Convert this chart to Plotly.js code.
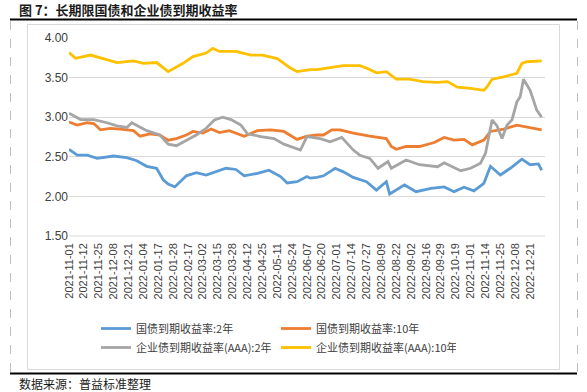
<!DOCTYPE html>
<html>
<head>
<meta charset="utf-8">
<script src="https://cdn.plot.ly/plotly-3.0.1.min.js"></script>
<style>html,body{margin:0;padding:0;background:#fff;}#chart{width:587px;height:392px;}</style>
</head>
<body>
<div id="chart"></div>
<script>
// Tick labels: one every 9 trading days (category positions)
const tickLabels = ["2021-11-01","2021-11-12","2021-11-25","2021-12-08","2021-12-21","2022-01-04","2022-01-17","2022-01-28","2022-02-17","2022-03-02","2022-03-15","2022-03-28","2022-04-12","2022-04-25","2022-05-11","2022-05-24","2022-06-07","2022-06-20","2022-07-01","2022-07-14","2022-07-27","2022-08-09","2022-08-22","2022-09-02","2022-09-16","2022-09-29","2022-10-19","2022-11-01","2022-11-14","2022-11-25","2022-12-08","2022-12-21"];
const tickStep = 9;

// Series (x = trading-day index from 2021-11-01, y = yield %)
const gov2Day = [0,5,11,17,27,35,41,47,53,57,60,64,71,77,83,89,95,101,106,114,121,128,132,138,144,146,150,154,161,166,172,180,186,192,194,203,210,219,227,233,239,245,251,255,261,267,274,279,284,286];
const gov2 = [2.595,2.52,2.52,2.48,2.51,2.49,2.45,2.38,2.355,2.21,2.155,2.12,2.26,2.30,2.27,2.31,2.355,2.34,2.26,2.29,2.33,2.25,2.17,2.185,2.25,2.23,2.24,2.26,2.355,2.31,2.24,2.185,2.08,2.185,2.03,2.145,2.06,2.10,2.12,2.06,2.115,2.07,2.165,2.38,2.27,2.355,2.47,2.40,2.41,2.33];

const gov10Day = [0,5,11,15,19,25,31,39,43,49,55,60,65,71,75,81,86,91,97,106,114,122,130,138,144,150,154,159,164,172,182,192,195,198,204,212,221,227,233,239,244,251,255,263,271,279,286];
const gov10 = [2.94,2.90,2.93,2.92,2.84,2.86,2.85,2.83,2.76,2.79,2.775,2.71,2.73,2.775,2.82,2.80,2.85,2.805,2.83,2.76,2.83,2.84,2.82,2.72,2.76,2.775,2.775,2.84,2.84,2.80,2.76,2.73,2.63,2.595,2.63,2.63,2.68,2.745,2.71,2.72,2.65,2.71,2.82,2.85,2.90,2.87,2.84];

const corp2Day = [0,7,15,23,29,35,38,43,47,55,60,65,71,77,83,88,93,98,104,108,116,124,130,138,140,144,150,152,158,165,172,176,182,187,193,195,204,212,223,227,237,243,249,252,256,259,262,265,268,271,273,275,279,283,286];
const corp2 = [3.05,2.97,2.97,2.93,2.89,2.87,2.93,2.87,2.83,2.775,2.66,2.64,2.71,2.775,2.86,2.965,3.00,2.97,2.90,2.79,2.755,2.73,2.66,2.595,2.585,2.755,2.73,2.73,2.69,2.745,2.585,2.52,2.48,2.355,2.44,2.355,2.46,2.40,2.375,2.425,2.325,2.355,2.42,2.545,2.965,2.89,2.73,2.90,2.965,3.195,3.26,3.48,3.34,3.09,3.00];

const corp10Day = [0,4,13,25,29,39,45,53,58,60,69,75,83,87,91,101,110,117,126,134,138,146,150,156,166,176,180,186,192,198,206,214,223,229,235,243,251,253,256,263,271,274,277,286];
const corp10 = [3.815,3.744,3.785,3.72,3.69,3.71,3.68,3.69,3.60,3.575,3.68,3.765,3.81,3.87,3.83,3.83,3.785,3.785,3.74,3.62,3.575,3.60,3.60,3.62,3.65,3.65,3.62,3.56,3.575,3.48,3.48,3.45,3.44,3.45,3.38,3.365,3.34,3.385,3.48,3.51,3.555,3.68,3.70,3.71];

const names = ["国债到期收益率:2年","国债到期收益率:10年","企业债到期收益率(AAA):2年","企业债到期收益率(AAA):10年"];
const colors = ["#5B9BD5","#ED7D31","#A5A5A5","#FFC000"];

const series = [[gov2Day,gov2],[gov10Day,gov10],[corp2Day,corp2],[corp10Day,corp10]];
const traces = series.map((s,i)=>({
  x: s[0], y: s[1], type:'scatter', mode:'lines', name: names[i],
  line:{color:colors[i], width:2.8}, hoverinfo:'skip'
}));

// pixel helpers for decoration placement (plot area 69..545 x, 38..236 y)
const L=69, R=42, T=38, B=156, W=587-L-R, H=392-T-B;
const px = x => (x-L)/W;
const py = y => (392-B-y)/H;

const cjk = '"Noto Sans CJK SC", "Noto Sans", sans-serif';
const layout = {
  width:587, height:392,
  margin:{l:L, r:R, t:T, b:B, pad:0},
  paper_bgcolor:'#ffffff', plot_bgcolor:'#ffffff',
  showlegend:true,
  font:{family:'"Liberation Sans", Arial, sans-serif', color:'#404040', size:11},
  xaxis:{
    range:[0,288], tickmode:'array',
    tickvals: tickLabels.map((_,i)=>i*tickStep), ticktext: tickLabels,
    tickangle:-90, tickfont:{size:11, color:'#404040'}, ticklabelstandoff:4,
    showgrid:false, zeroline:false, showline:false, ticks:'', fixedrange:true
  },
  yaxis:{
    range:[1.5,4.0], dtick:0.5, tick0:1.5, tickformat:'.2f',
    tickfont:{size:12, color:'#404040'},
    showgrid:true, gridcolor:'#d9d9d9', gridwidth:1,
    zeroline:false, showline:false, ticks:'', fixedrange:true
  },
  legend:{
    orientation:'h', x:px(96), xanchor:'left', y:py(314), yanchor:'top',
    entrywidth:135, entrywidthmode:'pixels', traceorder:'normal',
    font:{family:cjk, size:11, color:'#404040'}, bgcolor:'rgba(0,0,0,0)', tracegroupgap:0
  },
  shapes:[
    {type:'line', xref:'paper', yref:'paper', x0:px(10), x1:px(577), y0:py(19.5), y1:py(19.5), line:{color:'#000', width:2}},
    {type:'line', xref:'paper', yref:'paper', x0:px(10), x1:px(577), y0:py(373.5), y1:py(373.5), line:{color:'#000', width:2}},
    {type:'line', xref:'paper', yref:'paper', x0:px(10.5), x1:px(10.5), y0:py(21), y1:py(372), line:{color:'#bfbfbf', width:1, dash:'dash'}},
    {type:'line', xref:'paper', yref:'paper', x0:px(577.5), x1:px(577.5), y0:py(21), y1:py(372), line:{color:'#bfbfbf', width:1, dash:'dash'}},
    {type:'rect', xref:'paper', yref:'paper', x0:px(27.5), x1:px(559.5), y0:py(24.5), y1:py(369.5), line:{color:'#d9d9d9', width:1}, fillcolor:'rgba(0,0,0,0)'},
    {type:'line', xref:'paper', yref:'paper', x0:0, x1:1, y0:0, y1:0, line:{color:'#d9d9d9', width:1}}
  ],
  annotations:[
    {xref:'paper', yref:'paper', x:px(17), y:py(10), xanchor:'left', yanchor:'middle', showarrow:false,
     text:'<b>图 7：长期限国债和企业债到期收益率</b>', font:{family:cjk, size:13, color:'#1a1a1a'}},
    {xref:'paper', yref:'paper', x:px(17), y:py(383), xanchor:'left', yanchor:'middle', showarrow:false,
     text:'数据来源：普益标准整理', font:{family:cjk, size:12, color:'#1a1a1a'}}
  ]
};

Plotly.newPlot('chart', traces, layout, {displayModeBar:false, staticPlot:true});
</script>
</body>
</html>
